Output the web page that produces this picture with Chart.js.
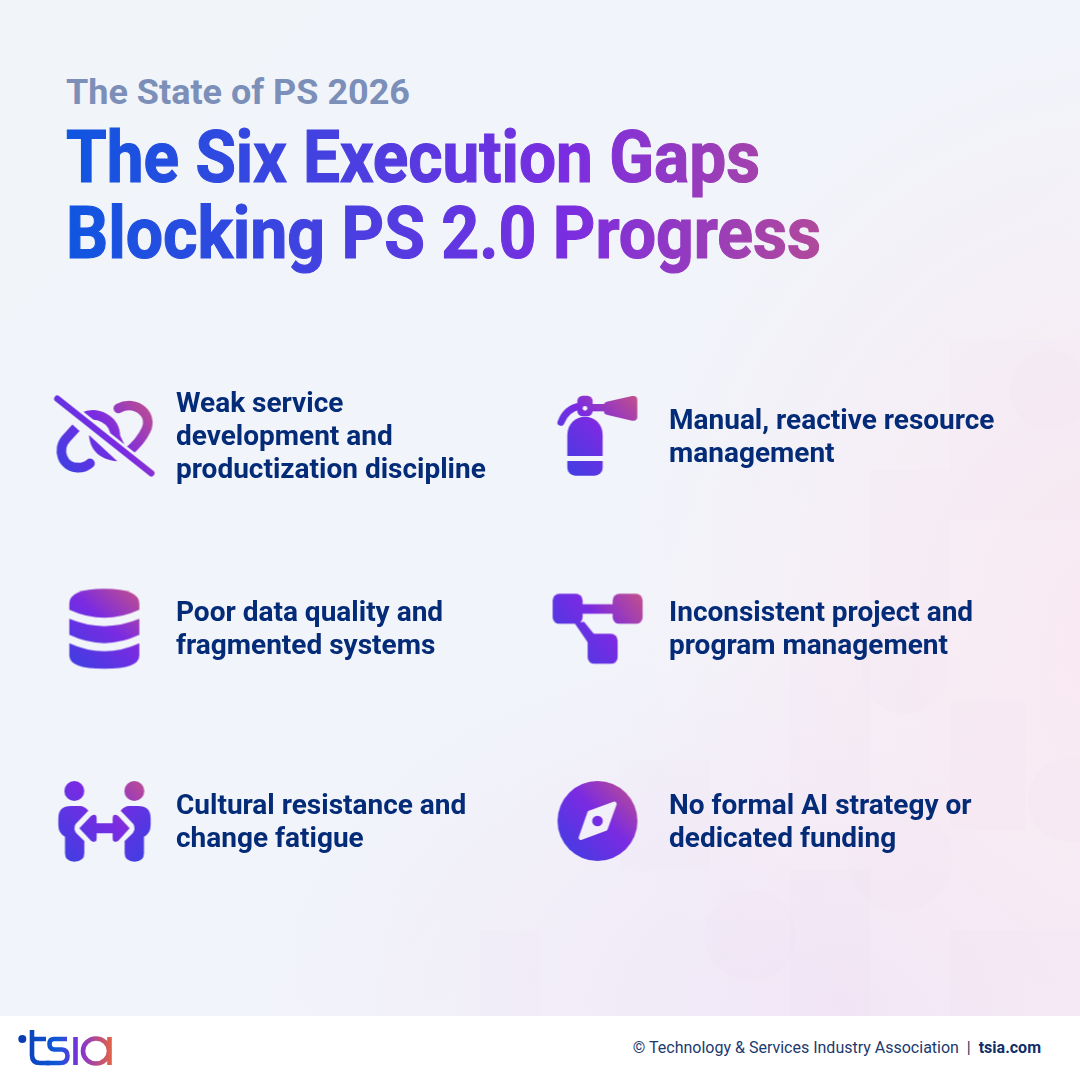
<!DOCTYPE html>
<html>
<head>
<meta charset="utf-8">
<title>The Six Execution Gaps</title>
<script src="https://cdn.jsdelivr.net/npm/chart.js@4"></script>
<style>
    html, body { margin: 0; padding: 0; }
    body { width: 1080px; height: 1080px; position: relative; overflow: hidden; font-family: Roboto, sans-serif;
        background:
            radial-gradient(ellipse 520px 620px at 1130px 640px, #f9e8f1 0%, rgba(249,232,241,0) 100%),
            radial-gradient(ellipse 600px 400px at 840px 1010px, #f0e6f7 0%, rgba(240,230,247,0) 100%),
            linear-gradient(135deg, #f1f4f9 0%, #f1f4fa 55%, #f7f7fb 100%); }
    #deco, #title, #gaps { position: absolute; left: 0; top: 0; }
    #footer { position: absolute; left: 0; top: 1016px; width: 1080px; height: 64px; background: #fff; }
    #logo { position: absolute; left: 0; top: 0; }
    #credit { position: absolute; right: 39px; top: 22px; font-size: 16px; line-height: 20px; color: #1c3a6e; white-space: pre; }
    #credit b { font-weight: 700; color: #0f2f66; }
</style>
</head>
<body>
<!-- faint tile pattern behind the page -->
<svg id="deco" width="1080" height="1016" fill="#a860c0" fill-opacity="0.014">
    <rect x="790" y="640" width="80" height="170"/>
    <rect x="870" y="470" width="80" height="170"/>
    <rect x="950" y="340" width="130" height="180"/>
    <rect x="950" y="700" width="75" height="130"/>
    <rect x="790" y="870" width="80" height="146"/>
    <rect x="950" y="930" width="130" height="86"/>
    <rect x="620" y="760" width="90" height="110"/>
    <rect x="480" y="930" width="60" height="86"/>
    <circle cx="750" cy="935" r="46"/>
    <circle cx="1070" cy="800" r="42"/>
    <circle cx="900" cy="860" r="52"/>
    <circle cx="1050" cy="390" r="40"/>
    <circle cx="905" cy="670" r="44"/>
</svg>

<svg id="title" width="1080" height="300">
    <defs>
        <linearGradient id="titleGrad" gradientUnits="userSpaceOnUse" x1="66" y1="0" x2="830" y2="0">
            <stop offset="0" stop-color="#0f56e0"/>
            <stop offset="0.35" stop-color="#4640e0"/>
            <stop offset="0.66" stop-color="#7b2de0"/>
            <stop offset="1" stop-color="#b34a98"/>
        </linearGradient>
    </defs>
    <text x="66" y="104" textLength="344" lengthAdjust="spacingAndGlyphs" font-family="Roboto" font-weight="700" font-size="35" fill="#7b8fb8">The State of PS 2026</text>
    <text x="66" y="182" textLength="694" lengthAdjust="spacingAndGlyphs" font-family="Roboto" font-weight="700" font-size="73" fill="url(#titleGrad)" stroke="url(#titleGrad)" stroke-width="1.2">The Six Execution Gaps</text>
    <text x="66" y="258" textLength="755" lengthAdjust="spacingAndGlyphs" font-family="Roboto" font-weight="700" font-size="73" fill="url(#titleGrad)" stroke="url(#titleGrad)" stroke-width="1.2">Blocking PS 2.0 Progress</text>
</svg>

<canvas id="gaps" width="1080" height="1080"></canvas>

<div id="footer">
    <svg id="logo" width="130" height="64" fill="none" stroke="url(#logoGrad)" stroke-width="4.6">
        <defs>
            <linearGradient id="logoGrad" gradientUnits="userSpaceOnUse" x1="20" y1="0" x2="113" y2="0">
                <stop offset="0" stop-color="#0a3db4"/>
                <stop offset="0.4" stop-color="#0f58d8"/>
                <stop offset="0.62" stop-color="#7a30e0"/>
                <stop offset="1" stop-color="#e8653f"/>
            </linearGradient>
        </defs>
        <circle cx="22.3" cy="23" r="4" fill="#0a3db4" stroke="none"/>
        <path d="M32 14 V39 Q32 47 40 47 H50 M32 23 H46"/>
        <path d="M67 23 H54 Q49.500 23 49.500 28 Q49.500 33 54 33.500 H62 Q67.500 34 67.500 40 Q67.500 47 60 47 H46"/>
        <path d="M75.500 21 V49"/>
        <ellipse cx="96" cy="35" rx="13" ry="12.500"/>
        <path d="M109.500 21 V49"/>
    </svg>
    <div id="credit">© Technology &amp; Services Industry Association  |  <b>tsia.com</b></div>
</div>

<script>
// ==================== data ====================
const gapLabels = [
    ['Weak service', 'development and', 'productization discipline'],
    ['Manual, reactive resource', 'management'],
    ['Poor data quality and', 'fragmented systems'],
    ['Inconsistent project and', 'program management'],
    ['Cultural resistance and', 'change fatigue'],
    ['No formal AI strategy or', 'dedicated funding']
];
const gapColumns = [0, 1, 0, 1, 0, 1];
const gapRows = [0, 0, 1, 1, 2, 2];
const gapIcons = ['unlink', 'extinguisher', 'database', 'workflow', 'people', 'compass'];

// ==================== icons (drawn at 3x around their own centre) ====================
const ICON_SIZE = 130;

function iconGradient(ctx, box) {
    const g = ctx.createLinearGradient(box[0], box[3], box[2], box[1]);
    g.addColorStop(0, '#3a40e2');
    g.addColorStop(0.55, '#7a2be2');
    g.addColorStop(1, '#c4508a');
    return g;
}

function roundBox(x, y, w, h, r) {
    const p = new Path2D();
    p.roundRect(x, y, w, h, r);
    return p;
}

const iconPainters = {
    unlink: { centre: [193.5, 168], box: [50, 60, 335, 280], paint(ctx, paint) {
        ctx.strokeStyle = paint;
        ctx.lineWidth = 29;
        ctx.lineCap = 'butt';
        ctx.stroke(new Path2D('M108 143 L78 176 C50 208 66 263 115 263'));
        ctx.lineCap = 'round';
        ctx.stroke(new Path2D('M115 263 Q135 263 150 250'));
        ctx.lineCap = 'butt';
        ctx.stroke(new Path2D('M128 112 C170 92 226 118 226 170 L240 200'));
        ctx.fillStyle = paint;
        ctx.fill(new Path2D('M147 165 C150 215 185 240 232 244 Z'));
        ctx.lineCap = 'round';
        ctx.stroke(new Path2D('M235 85 C290 58 340 105 318 150 Q302 185 262 218'));
        // gap around the slash, then the slash itself
        ctx.globalCompositeOperation = 'destination-out';
        ctx.lineWidth = 36;
        const slash = new Path2D('M52 56 L334 280');
        ctx.stroke(slash);
        ctx.globalCompositeOperation = 'source-over';
        ctx.lineWidth = 19;
        ctx.stroke(slash);
    } },
    extinguisher: { centre: [172.5, 168], box: [55, 47, 292, 287], paint(ctx, paint) {
        ctx.fillStyle = paint;
        ctx.strokeStyle = paint;
        ctx.lineWidth = 21;
        ctx.lineCap = 'round';
        ctx.stroke(new Path2D('M120 78 Q78 86 63 127'));
        const body = new Path2D('M82 165 C82 130 108 110 135 110 C162 110 188 130 188 165 L188 228 L82 228 Z');
        // small gap between hose and body
        ctx.globalCompositeOperation = 'destination-out';
        ctx.lineWidth = 14;
        ctx.stroke(body);
        ctx.globalCompositeOperation = 'source-over';
        ctx.fill(body);
        ctx.fill(roundBox(82, 243, 106, 44, [0, 0, 24, 24]));
        ctx.fill(roundBox(112, 47, 46, 62, 16));
        ctx.fill(new Path2D('M155 72 H195 V94 H155 Z'));
        ctx.fill(new Path2D('M192 72 Q193 67 200 65 L276 48 Q292 46 292 60 L292 110 Q292 124 276 122 L200 104 Q192 102 192 96 Z'));
        ctx.globalCompositeOperation = 'destination-out';
        ctx.beginPath();
        ctx.arc(135, 85, 7, 0, Math.PI * 2);
        ctx.fill();
        ctx.globalCompositeOperation = 'source-over';
    } },
    database: { centre: [163.5, 159], box: [58, 40, 268, 280], paint(ctx, paint) {
        ctx.fillStyle = paint;
        ctx.fill(new Path2D('M58 85 Q58 40 163 40 Q268 40 268 85 L268 103 Q163 151 58 103 Z'));
        ctx.fill(new Path2D('M58 130 Q163 174 268 130 L268 178 Q163 228 58 178 Z'));
        ctx.fill(new Path2D('M58 203 Q163 251 268 203 L268 240 Q268 280 163 280 Q58 280 58 240 Z'));
    } },
    workflow: { centre: [172.5, 144], box: [38, 40, 308, 250], paint(ctx, paint) {
        ctx.fillStyle = paint;
        ctx.fill(roundBox(38, 40, 90, 90, 20));
        ctx.fill(roundBox(218, 40, 90, 90, 20));
        ctx.fill(roundBox(143, 160, 90, 90, 20));
        ctx.fill(new Path2D('M120 71 H226 V100 H120 Z'));
        ctx.fill(new Path2D('M104 128 L132 124 L170 170 L146 190 Z'));
    } },
    people: { centre: [178.5, 153], box: [40, 33, 317, 275], paint(ctx, paint) {
        ctx.fillStyle = paint;
        const body = 'Q40 108 78 108 L105 108 Q118 108 130 122 L92 162 Q84 176 94 190 L118 213 L118 250 Q118 275 88 275 Q60 275 60 250 L60 200 Q40 190 40 165 Z';
        ctx.beginPath();
        ctx.arc(88, 63, 30, 0, Math.PI * 2);
        ctx.moveTo(298, 63);
        ctx.arc(268, 63, 30, 0, Math.PI * 2);
        ctx.fill();
        ctx.fill(new Path2D('M40 145 ' + body));
        ctx.save();
        ctx.translate(357, 0);
        ctx.scale(-1, 1);
        ctx.fill(new Path2D('M40 145 ' + body));
        ctx.restore();
        ctx.fill(new Path2D('M103 175 L138 138 Q155 128 155 146 L155 160 L203 160 L203 146 Q203 128 220 138 L254 175 L220 212 Q203 222 203 204 L203 190 L155 190 L155 204 Q155 222 138 212 Z'));
    } },
    compass: { centre: [157.5, 153], box: [38, 33, 277, 273], paint(ctx, paint) {
        ctx.fillStyle = paint;
        ctx.beginPath();
        ctx.arc(157.5, 153, 120, 0, Math.PI * 2);
        ctx.fill();
        ctx.globalCompositeOperation = 'destination-out';
        const needle = new Path2D('M208 102 L181 176 L108 203 L134 129 Z');
        ctx.strokeStyle = '#000';
        ctx.lineWidth = 14;
        ctx.lineJoin = 'round';
        ctx.fill(needle);
        ctx.stroke(needle);
        ctx.globalCompositeOperation = 'source-over';
        ctx.beginPath();
        ctx.arc(157.5, 153, 16, 0, Math.PI * 2);
        ctx.fill();
    } }
};

function buildIcon(name) {
    const painter = iconPainters[name];
    const canvas = document.createElement('canvas');
    canvas.width = ICON_SIZE;
    canvas.height = ICON_SIZE;
    const ctx = canvas.getContext('2d');
    ctx.translate(ICON_SIZE / 2, ICON_SIZE / 2);
    ctx.scale(1 / 3, 1 / 3);
    ctx.translate(-painter.centre[0], -painter.centre[1]);
    painter.paint(ctx, iconGradient(ctx, painter.box));
    return canvas;
}

// ==================== labels beside each point ====================
const gapLabelPlugin = {
    id: 'gapLabels',
    afterDatasetsDraw(chart) {
        const ctx = chart.ctx;
        const points = chart.getDatasetMeta(0).data;
        ctx.save();
        ctx.font = '700 28px Roboto';
        ctx.fillStyle = '#042b78';
        ctx.textBaseline = 'alphabetic';
        points.forEach((point, i) => {
            const lines = gapLabels[i];
            const firstLine = point.y - (lines.length - 1) * 33 / 2 + 9;
            lines.forEach((line, n) => ctx.fillText(line, point.x + 71.5, firstLine + n * 33));
        });
        ctx.restore();
    }
};

new Chart(document.getElementById('gaps'), {
    type: 'scatter',
    data: {
        datasets: [{
            data: gapColumns.map((col, i) => ({ x: col, y: gapRows[i] })),
            pointStyle: gapIcons.map(buildIcon),
            pointRadius: 40,
            pointHoverRadius: 40,
            clip: false
        }]
    },
    options: {
        responsive: false,
        animation: false,
        devicePixelRatio: 1,
        layout: { padding: 0, autoPadding: false },
        events: [],
        plugins: { legend: { display: false }, tooltip: { enabled: false } },
        scales: {
            // columns land 493px apart, rows 192.5px apart
            x: { type: 'linear', display: false, min: -104.5 / 493, max: (1080 - 104.5) / 493 },
            y: { type: 'linear', display: false, reverse: true, min: -436 / 192.5, max: (1080 - 436) / 192.5 }
        }
    },
    plugins: [gapLabelPlugin]
});
</script>
</body>
</html>
